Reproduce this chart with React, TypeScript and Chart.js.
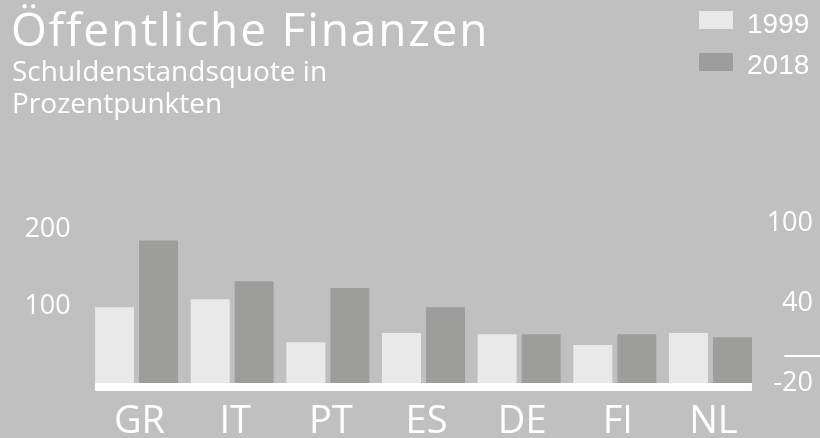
import React, { useEffect, useRef } from "react";
import { Chart, registerables } from "chart.js";

Chart.register(...registerables);

// ---- data ----
const categories = ["GR", "IT", "PT", "ES", "DE", "FI", "NL"];
const series1999 = [98.5, 109, 53, 65, 63.5, 49.5, 65];
const series2018 = [185.5, 132.5, 123.5, 98.5, 63.5, 63.5, 59.5];
const leftTicks = [100, 200];
const rightTicks = [-20, 40, 100];
const rightZeroLine = 0;
const legendLabels = ["1999", "2018"];
const titleText = "Öffentliche Finanzen";
const subtitleLines = ["Schuldenstandsquote in", "Prozentpunkten"];

// ---- styles ----
const BG = "#c0c0c0";
const LIGHT = "#e9e9e9";
const DARK = "#9d9d9b";
const FONT = "'Open Sans', 'Noto Sans', sans-serif";

const decorPlugin = {
  id: "decor",
  afterDatasetsDraw(chart: any) {
    const { ctx, chartArea } = chart;
    const d0 = chart.getDatasetMeta(0).data;
    const d1 = chart.getDatasetMeta(1).data;
    const first: any = d0[0];
    const last: any = d1[d1.length - 1];
    const left = first.x - first.width / 2;
    const right = last.x + last.width / 2;
    ctx.save();
    ctx.fillStyle = "#ffffff";
    ctx.fillRect(left, chartArea.bottom, right - left, 8);
    const y2 = chart.scales.y2;
    const yz = Math.round(y2.getPixelForValue(rightZeroLine));
    const x0 = y2.left + 26;
    ctx.fillRect(x0, yz - 1, chart.width - x0, 2);
    ctx.restore();
  },
};

const noGrid = { display: false, drawTicks: false, tickLength: 0 };

export default function App() {
  const ref = useRef<HTMLCanvasElement | null>(null);

  useEffect(() => {
    if (!ref.current) return;
    const chart = new Chart(ref.current, {
      type: "bar",
      data: {
        labels: categories,
        datasets: [
          {
            label: legendLabels[0],
            data: series1999,
            backgroundColor: LIGHT,
            borderWidth: 0,
            yAxisID: "y",
            barPercentage: 0.886,
            categoryPercentage: 0.92,
          },
          {
            label: legendLabels[1],
            data: series2018,
            backgroundColor: DARK,
            borderWidth: 0,
            yAxisID: "y",
            barPercentage: 0.886,
            categoryPercentage: 0.92,
          },
        ],
      },
      options: {
        animation: false,
        responsive: false,
        maintainAspectRatio: false,
        layout: { padding: { top: 197, left: 0, right: 7, bottom: 0 } },
        plugins: {
          legend: { display: false },
          title: { display: false },
          tooltip: { enabled: false },
        },
        scales: {
          x: {
            type: "category",
            grid: noGrid,
            border: { display: false },
            ticks: {
              color: "#ffffff",
              font: { family: FONT, size: 38 },
              padding: 16,
              labelOffset: 3,
              maxRotation: 0,
              autoSkip: false,
            },
            afterFit(scale: any) {
              scale.height = 55;
            },
          },
          y: {
            position: "left",
            min: 0,
            max: 242,
            grid: noGrid,
            border: { display: false },
            ticks: {
              color: "#ffffff",
              font: { family: FONT, size: 27 },
              padding: 18,
            },
            afterBuildTicks(scale: any) {
              scale.ticks = leftTicks.map((v) => ({ value: v }));
            },
            afterFit(scale: any) {
              scale.width = 88.7;
            },
          },
          y2: {
            position: "right",
            min: -20,
            max: 120,
            grid: noGrid,
            border: { display: false },
            ticks: {
              color: "#ffffff",
              font: { family: FONT, size: 27 },
              crossAlign: "far",
            },
            afterBuildTicks(scale: any) {
              scale.ticks = rightTicks.map((v) => ({ value: v }));
            },
            afterFit(scale: any) {
              scale.width = 54.7;
            },
          },
        },
      },
      plugins: [decorPlugin],
    } as any);
    return () => chart.destroy();
  }, []);

  return (
    <div
      style={{
        position: "fixed",
        left: 0,
        top: 0,
        width: 820,
        height: 438,
        background: BG,
        overflow: "hidden",
      }}
    >
      <canvas
        ref={ref}
        width={820}
        height={438}
        style={{ position: "absolute", left: 0, top: 0, width: 820, height: 438 }}
      />
      <div
        style={{
          position: "absolute",
          left: 11,
          top: 5,
          fontFamily: FONT,
          fontSize: 46,
          lineHeight: "46px",
          letterSpacing: 1.85,
          color: "#ffffff",
          whiteSpace: "nowrap",
        }}
      >
        {titleText}
      </div>
      <div
        style={{
          position: "absolute",
          left: 12,
          top: 54,
          fontFamily: FONT,
          fontSize: 28,
          lineHeight: "32px",
          color: "#ffffff",
          whiteSpace: "nowrap",
        }}
      >
        {subtitleLines.map((l) => (
          <div key={l}>{l}</div>
        ))}
      </div>
      {legendLabels.map((lab, i) => (
        <React.Fragment key={lab}>
          <div
            style={{
              position: "absolute",
              left: 699,
              top: 11 + i * 42,
              width: 34,
              height: 18,
              background: i === 0 ? LIGHT : DARK,
            }}
          />
          <div
            style={{
              position: "absolute",
              left: 747,
              top: 9.6 + i * 41,
              fontFamily: "'Liberation Sans', Arial, sans-serif",
              fontSize: 28,
              lineHeight: "28px",
              color: "#ffffff",
              whiteSpace: "nowrap",
            }}
          >
            {lab}
          </div>
        </React.Fragment>
      ))}
    </div>
  );
}
